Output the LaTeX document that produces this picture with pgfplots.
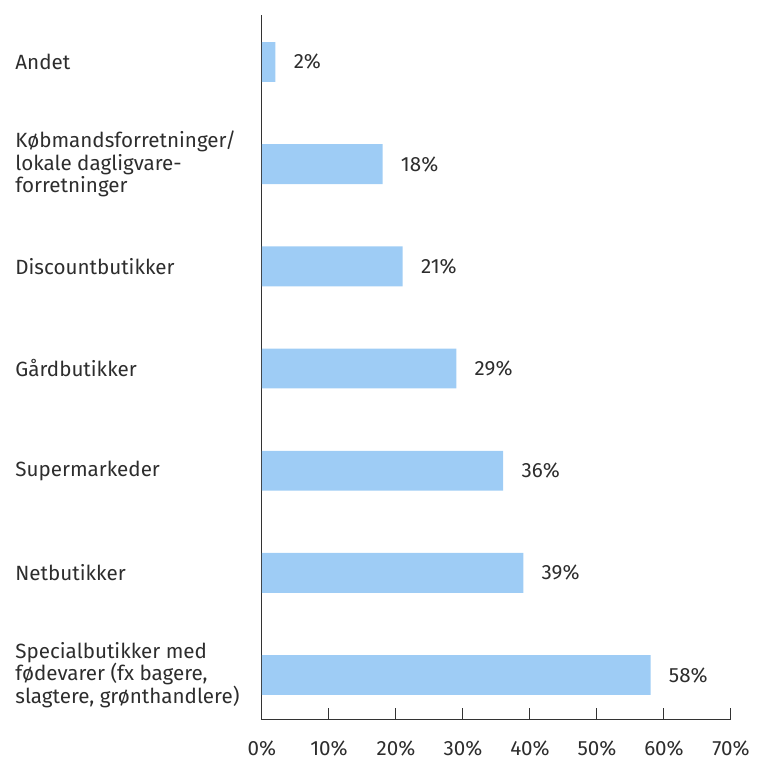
\documentclass[border=0pt]{standalone}
\usepackage{pgfplots}
\pgfplotsset{compat=1.18}
\usepackage{fontspec}
\setmainfont{Fira Sans}
\definecolor{barblue}{RGB}{158,204,245}
\definecolor{txt}{RGB}{45,45,45}
\begin{document}
\begin{tikzpicture}
\useasboundingbox (0,0) rectangle (382.5pt,381.5pt);
\begin{axis}[
  at={(131pt,21.5pt)}, anchor=south west,
  scale only axis, width=234.5pt, height=352.5pt,
  xmin=0, xmax=70, ymin=-0.44, ymax=6.46,
  axis lines*=left,
  axis line style={black!80, line width=0.5pt},
  xbar, bar width=0.39,
  xtick={0,10,...,70},
  xticklabels={0\%,10\%,20\%,30\%,40\%,50\%,60\%,70\%},
  xtick style={black!80, line width=0.5pt},
  tick align=inside, major tick length=6pt,
  xticklabel style={font=\fontsize{10.3}{11.2}\selectfont, text=txt, yshift=-7pt},
  ytick={0,1,2,3,4,5,6},
  yticklabels={{Specialbutikker med\\fødevarer (fx bagere,\\slagtere, grønthandlere)},
    Netbutikker, Supermarkeder, Gårdbutikker, Discountbutikker,
    {Købmandsforretninger/\\lokale dagligvare-\\forretninger}, Andet},
  ytick style={draw=none},
  yticklabel style={font=\fontsize{10.3}{11.2}\selectfont, text=txt, align=left, anchor=west, inner xsep=0pt, xshift=-123.5pt},
  nodes near coords={\pgfmathprintnumber[assume math mode=true]{\pgfplotspointmeta}\%},
  nodes near coords style={font=\fontsize{10.3}{11.2}\selectfont, text=txt, anchor=west, inner xsep=0pt, xshift=9pt},
  point meta=x,
  clip=false,
]
\addplot[fill=barblue, draw=none] coordinates {(58,0) (39,1) (36,2) (29,3) (21,4) (18,5) (2,6)};
\end{axis}
\end{tikzpicture}
\end{document}
